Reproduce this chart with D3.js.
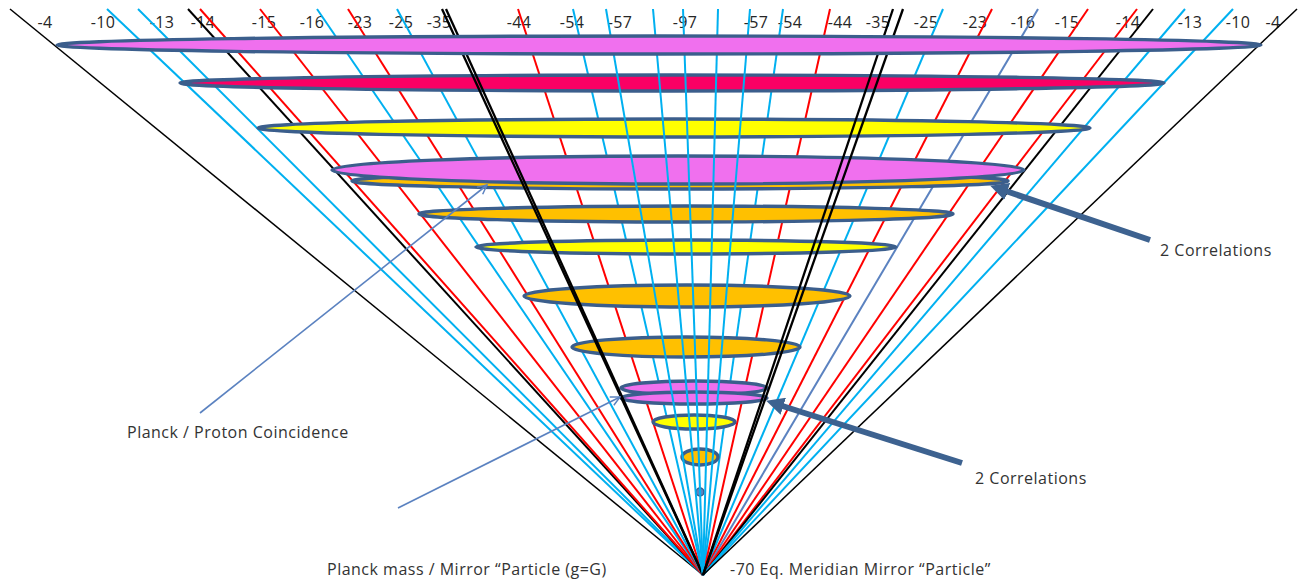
<!DOCTYPE html>
<html>
<head>
<meta charset="utf-8">
<script src="https://cdn.jsdelivr.net/npm/d3@7"></script>
<style>
	html, body { margin: 0; padding: 0; background: #fff; }
	svg { display: block; font-family: "Open Sans", Lato, sans-serif; }
	.lbl { font-size: 16px; fill: #262626; letter-spacing: 0.3px; }
	.note { font-size: 16px; fill: #333; letter-spacing: 0.5px; }
</style>
</head>
<body>
<svg id="fan"></svg>
<script>
// top tick labels and where they sit along the top edge
const topLabels = ['-4', '-10', '-13', '-14', '-15', '-16', '-23', '-25', '-35', '-44', '-54', '-57', '-97',
	'-57', '-54', '-44', '-35', '-25', '-23', '-16', '-15', '-14', '-13', '-10', '-4'];
const topLabelX = [45, 103, 162, 203, 264, 312, 360, 401, 439, 519, 572, 620, 685,
	756, 790, 840, 878, 926, 975, 1023, 1067, 1128, 1190, 1238, 1273];

// rays from the mirror point up to the top edge
const rayTopX = [10, 107, 138, 188, 200, 260, 317, 348, 397, 442, 446, 518, 573, 606, 653, 683, 718, 750,
	783, 830, 893, 903, 943, 992, 1038, 1088, 1137, 1153, 1185, 1233, 1297];
const rayKind = ['edge', 'blue', 'blue', 'black', 'red', 'red', 'blue', 'red', 'blue', 'axis', 'axis', 'red', 'blue',
	'core', 'core', 'core', 'core', 'core', 'blue', 'red', 'axis', 'axis', 'blue', 'red', 'steel', 'red', 'red',
	'black', 'blue', 'blue', 'edge'];
const vertex = [703, 575];
const rayTopY = 9;

// the ellipses (levels), bottom of the stack last
const levelCx = [659, 672, 674, 680, 678, 686, 686, 687, 686, 694, 694, 694, 700];
const levelCy = [45, 83, 128, 181, 170, 214, 247, 296, 347, 388, 398, 422, 457];
const levelRx = [602, 492, 416, 328, 346, 267, 210, 163, 114, 73, 73, 41, 18];
const levelRy = [9, 8, 9, 8, 14, 8, 7, 11, 10, 7, 6, 7, 8];
const levelKind = ['magenta', 'crimson', 'yellow', 'orange', 'magenta', 'orange', 'yellow', 'orange', 'orange',
	'magenta', 'magenta', 'yellow', 'orange'];
const dot = [700, 492, 4];

// annotations
const notes = [
	{ text: '2 Correlations', x: 1160, y: 256, from: [1150, 240], to: [997, 188], style: 'thick' },
	{ text: '2 Correlations', x: 975, y: 484, from: [962, 463], to: [773, 403], style: 'thick' },
	{ text: 'Planck / Proton Coincidence', x: 127, y: 438, from: [200, 413], to: [487, 185], style: 'thin' },
	{ text: 'Planck mass / Mirror \u201CParticle (g=G)', x: 327, y: 575, from: [398, 508], to: [620, 397], style: 'thin' },
	{ text: '-70 Eq. Meridian Mirror \u201CParticle\u201D', x: 730, y: 575 }
];

const rayStyle = {
	edge: { stroke: '#000', width: 1.5 },
	black: { stroke: '#000', width: 2 },
	axis: { stroke: '#000', width: 2.3 },
	red: { stroke: '#ff0000', width: 2 },
	blue: { stroke: '#00b0f0', width: 2 },
	core: { stroke: '#00b0f0', width: 2 },
	steel: { stroke: '#5b82c0', width: 2 }
};
const fills = { magenta: '#f070ee', crimson: '#fa0064', yellow: '#ffff00', orange: '#ffc000' };
const frontKinds = new Set(['core', 'axis']);

function setupSVG (svg) {
	const width = 1302, height = 581;
	svg.attr('width', width).attr('height', height).attr('viewBox', `0 0 ${width} ${height}`);
	return { width, height, svg };
}

const { width, height, svg } = setupSVG(d3.select('svg#fan'));
const x = d3.scaleLinear([0, 1302], [0, width]);
const y = d3.scaleLinear([0, 581], [0, height]);

const defs = svg.append('defs');
defs.append('marker')
	.attr('id', 'head-thick').attr('viewBox', '0 0 10 10').attr('refX', 6).attr('refY', 5)
	.attr('markerWidth', 3).attr('markerHeight', 3).attr('orient', 'auto')
	.append('path').attr('d', 'M0,0 L10,5 L0,10 z').attr('fill', '#3d6290');
defs.append('marker')
	.attr('id', 'head-thin').attr('viewBox', '0 0 12 12').attr('refX', 11).attr('refY', 6)
	.attr('markerWidth', 11).attr('markerHeight', 11).attr('markerUnits', 'userSpaceOnUse').attr('orient', 'auto')
	.append('path').attr('d', 'M1,1 L11,6 L1,11').attr('fill', 'none').attr('stroke', '#5b82c0').attr('stroke-width', 1.6);

// labels go under the rays
svg.append('g').selectAll('text').data(topLabels).join('text')
	.attr('class', 'lbl')
	.attr('x', (d, i) => x(topLabelX[i]))
	.attr('y', y(28))
	.attr('text-anchor', 'middle')
	.text(d => d);

const rays = rayTopX.map((t, i) => ({ t, kind: rayKind[i] }));
function drawRays (g, list) {
	g.selectAll('line').data(list).join('line')
		.attr('x1', d => x(d.t)).attr('y1', y(rayTopY))
		.attr('x2', x(vertex[0])).attr('y2', y(vertex[1]))
		.attr('stroke', d => rayStyle[d.kind].stroke)
		.attr('stroke-width', d => rayStyle[d.kind].width);
}
drawRays(svg.append('g').attr('class', 'rays back'), rays.filter(d => !frontKinds.has(d.kind)));

const levels = levelCx.map((cx, i) => ({ cx, cy: levelCy[i], rx: levelRx[i], ry: levelRy[i], kind: levelKind[i] }));
const ell = g => g.selectAll('ellipse').data(d => d).join('ellipse')
	.attr('cx', d => x(d.cx)).attr('cy', d => y(d.cy))
	.attr('rx', d => x(d.rx) - x(0)).attr('ry', d => y(d.ry) - y(0))
	.attr('fill', d => fills[d.kind])
	.attr('stroke', '#3b5e8c').attr('stroke-width', 3.4);

svg.append('g').attr('class', 'levels').datum(levels.slice(1)).call(ell);
svg.append('circle')
	.attr('cx', x(dot[0])).attr('cy', y(dot[1])).attr('r', dot[2])
	.attr('fill', '#5b82c0').attr('stroke', '#3b5e8c').attr('stroke-width', 1.5);

drawRays(svg.append('g').attr('class', 'rays front'), rays.filter(d => frontKinds.has(d.kind)));
svg.append('g').attr('class', 'levels top').datum(levels.slice(0, 1)).call(ell);

// annotations
const ann = svg.append('g').attr('class', 'notes');
ann.selectAll('line').data(notes.filter(d => d.from)).join('line')
	.attr('x1', d => x(d.from[0])).attr('y1', d => y(d.from[1]))
	.attr('x2', d => x(d.to[0])).attr('y2', d => y(d.to[1]))
	.attr('stroke', d => d.style === 'thick' ? '#3d6290' : '#5b82c0')
	.attr('stroke-width', d => d.style === 'thick' ? 6 : 1.6)
	.attr('marker-end', d => `url(#head-${d.style})`);
ann.selectAll('text').data(notes).join('text')
	.attr('class', 'note')
	.attr('x', d => x(d.x)).attr('y', d => y(d.y))
	.text(d => d.text);
</script>
</body>
</html>
